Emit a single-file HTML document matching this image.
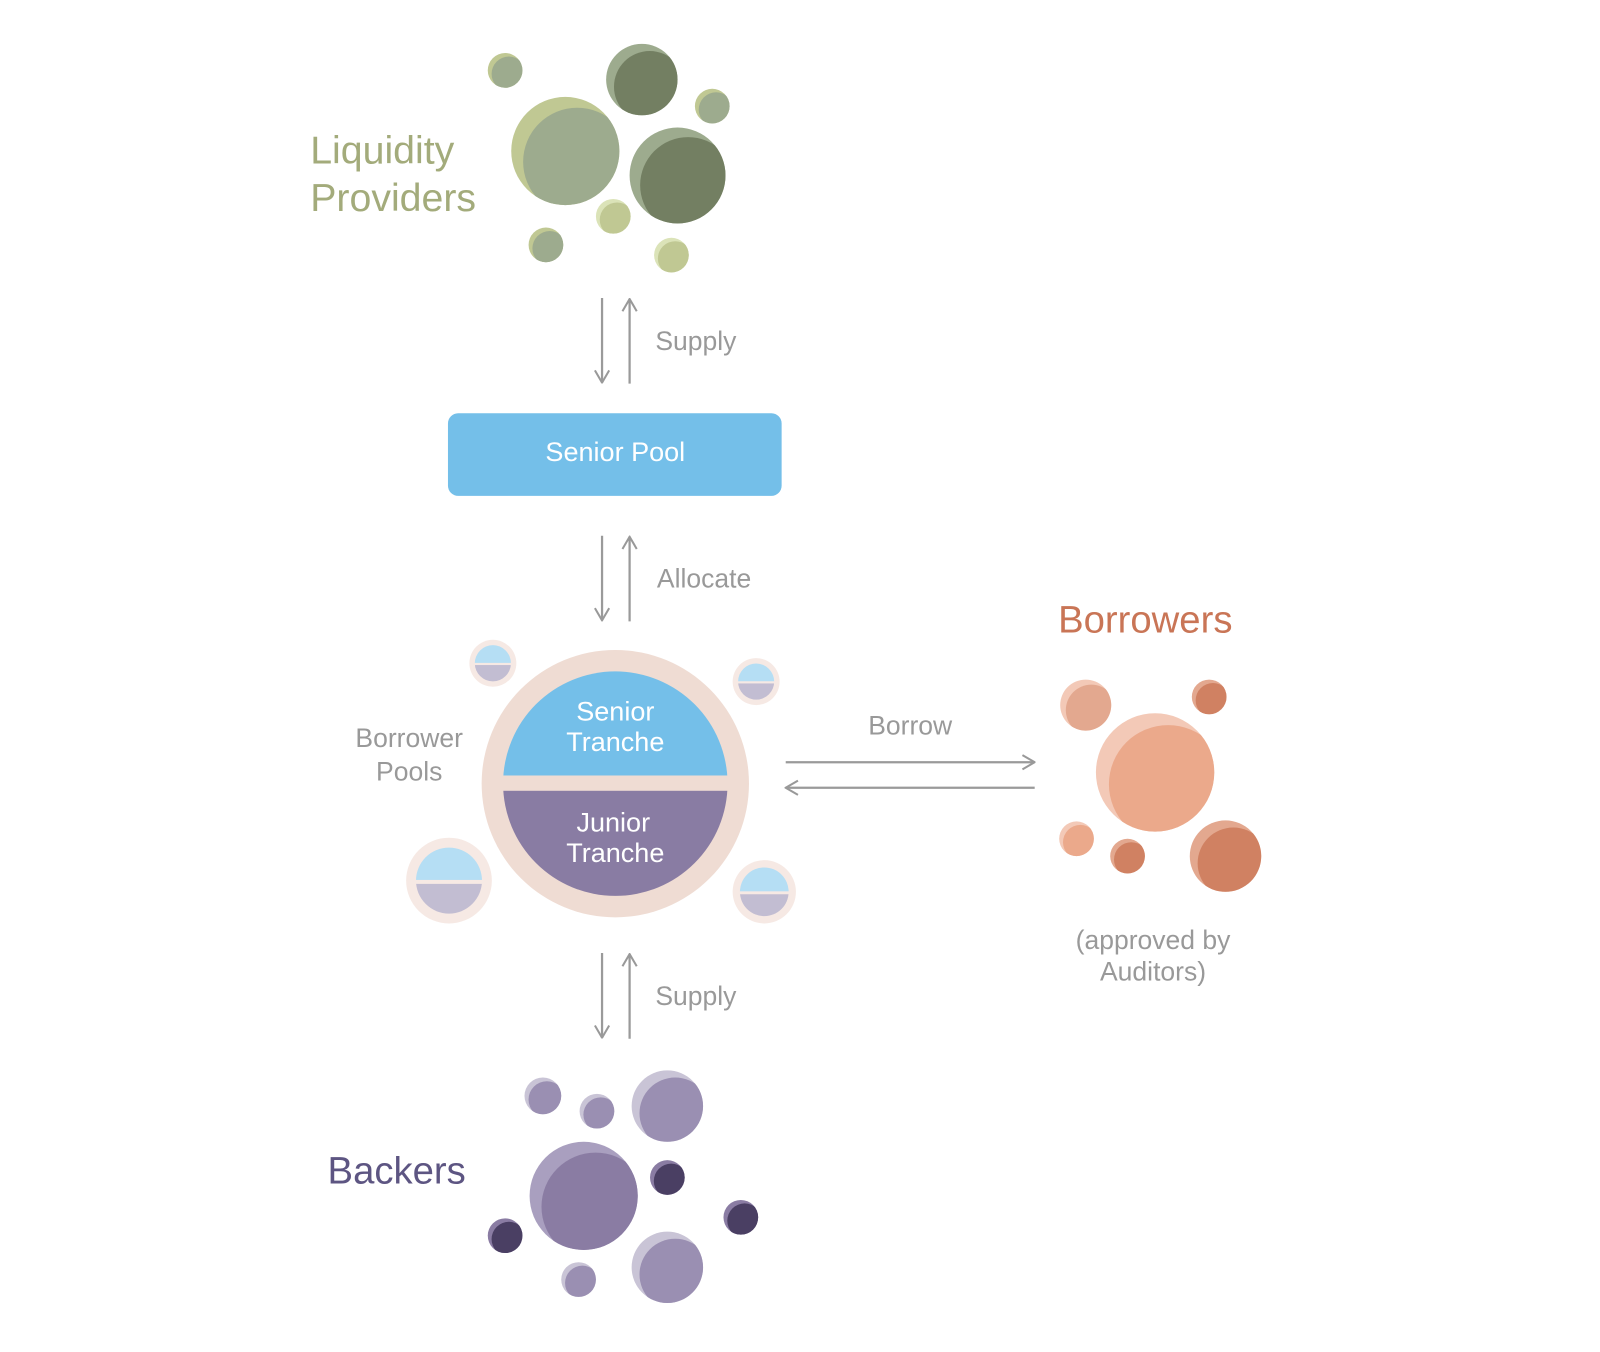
<!DOCTYPE html>
<html><head><meta charset="utf-8"><style>html,body{margin:0;padding:0;background:#fff}svg{display:block}</style></head>
<body>
<svg width="1600" height="1352" viewBox="0 0 1568 1325" xmlns="http://www.w3.org/2000/svg" font-family="Liberation Sans, sans-serif">
<defs>
<marker id="ah" viewBox="0 0 16 16" refX="15" refY="8" markerWidth="16" markerHeight="16" markerUnits="userSpaceOnUse" orient="auto"><path d="M3,1 L15,8 L3,15" fill="none" stroke="#999" stroke-width="2"/></marker>
</defs>
<g id="bubbles"></g>
<g stroke="#9a9a9a" stroke-width="2.2" fill="none">
<line x1="590" y1="292" x2="590" y2="375" marker-end="url(#ah)"/>
<line x1="617" y1="376" x2="617" y2="293" marker-end="url(#ah)"/>
<line x1="590" y1="525" x2="590" y2="608" marker-end="url(#ah)"/>
<line x1="617" y1="609" x2="617" y2="526" marker-end="url(#ah)"/>
<line x1="590" y1="934" x2="590" y2="1017" marker-end="url(#ah)"/>
<line x1="617" y1="1018" x2="617" y2="935" marker-end="url(#ah)"/>
<line x1="770" y1="747" x2="1014" y2="747" marker-end="url(#ah)"/>
<line x1="1014" y1="772" x2="770" y2="772" marker-end="url(#ah)"/>
</g>
<rect x="439" y="405" width="327" height="81" rx="10" fill="#74bfe9"/>
<text x="603" y="452" font-size="26.5" fill="#fff" text-anchor="middle">Senior Pool</text>
<circle cx="603" cy="768" r="131" fill="#efdcd3"/>
<clipPath id="mc"><circle cx="603" cy="768" r="110"/></clipPath>
<g clip-path="url(#mc)">
<rect x="480" y="650" width="250" height="110" fill="#74bfe9"/>
<rect x="480" y="775" width="250" height="110" fill="#897ca3"/>
</g>
<g font-size="26.5" fill="#fff" text-anchor="middle">
<text x="603" y="706">Senior</text><text x="603" y="736">Tranche</text>
<text x="601" y="815">Junior</text><text x="603" y="845">Tranche</text>
</g>
<g fill="#999" font-size="26" text-anchor="middle">
<text x="682" y="343">Supply</text>
<text x="690" y="576">Allocate</text>
<text x="682" y="985">Supply</text>
<text x="892" y="720">Borrow</text>
<text x="401" y="732">Borrower</text><text x="401" y="765">Pools</text>
<text x="1130" y="930">(approved by</text><text x="1130" y="961">Auditors)</text>
</g>
<text x="304" y="160" font-size="38.5" fill="#a3ab7b">Liquidity</text>
<text x="304" y="207" font-size="38.5" fill="#a3ab7b">Providers</text>
<text x="1037" y="620" font-size="37.5" fill="#c97556">Borrowers</text>
<text x="321" y="1160" font-size="37.5" fill="#5d5582">Backers</text>
<g id="pools"></g>
<script>
var ns="http://www.w3.org/2000/svg",g=document.getElementById("bubbles"),n=0;
function C(p,a){var e=document.createElementNS(ns,"circle");for(var k in a)e.setAttribute(k,a[k]);p.appendChild(e);return e;}
function B(x,y,r,c1,c2){n++;var cp=document.createElementNS(ns,"clipPath");cp.id="b"+n;C(cp,{cx:x,cy:y,r:r});g.appendChild(cp);
C(g,{cx:x,cy:y,r:r,fill:c1});var e=C(g,{cx:x+r*0.22,cy:y+r*0.2,r:r,fill:c2});e.setAttribute("clip-path","url(#b"+n+")");}
[[495,69,17,"#c0c893","#9dab8e"],[629,78,35,"#9dab8e","#737f62"],[698,104,17,"#c0c893","#9dab8e"],[554,148,53,"#c0c893","#9dab8e"],[664,172,47,"#9dab8e","#737f62"],[601,212,17,"#dbe3b8","#c0c893"],[535,240,17,"#c0c893","#9dab8e"],[658,250,17,"#dbe3b8","#c0c893"],
[1064,691,25,"#f3c9b7","#e3a88f"],[1185,683,17,"#e3a88f","#d08162"],[1132,757,58,"#f3c9b7","#eba98b"],[1055,822,17,"#f3c9b7","#eba98b"],[1105,839,17,"#e3a88f","#d08162"],[1201,839,35,"#e3a88f","#d08162"],
[532,1074,18,"#c9c4d6","#9a8fb2"],[585,1089,17,"#c9c4d6","#9a8fb2"],[654,1084,35,"#c9c4d6","#9a8fb2"],[572,1172,53,"#a99fbf","#8a7ca3"],[654,1154,17,"#8a7ca3","#4a3f63"],[495,1211,17,"#8a7ca3","#4a3f63"],[726,1193,17,"#8a7ca3","#4a3f63"],[567,1254,17,"#c9c4d6","#9a8fb2"],[654,1242,35,"#c9c4d6","#9a8fb2"]
].forEach(function(b){B.apply(null,b);});
var pg=document.getElementById("pools");
[[483,650,23],[741,668,23],[440,863,42],[749,874,31]].forEach(function(p){var x=p[0],y=p[1],r=p[2],ir=r*0.77;n++;
C(pg,{cx:x,cy:y,r:r,fill:"#f6e9e4"});var cp=document.createElementNS(ns,"clipPath");cp.id="b"+n;C(cp,{cx:x,cy:y,r:ir});pg.appendChild(cp);
var gg=document.createElementNS(ns,"g");gg.setAttribute("clip-path","url(#b"+n+")");pg.appendChild(gg);
var r1=document.createElementNS(ns,"rect");r1.setAttribute("x",x-r);r1.setAttribute("y",y-r);r1.setAttribute("width",2*r);r1.setAttribute("height",r-ir*0.02);r1.setAttribute("fill","#b5def4");gg.appendChild(r1);
var r2=document.createElementNS(ns,"rect");r2.setAttribute("x",x-r);r2.setAttribute("y",y+ir*0.1);r2.setAttribute("width",2*r);r2.setAttribute("height",r);r2.setAttribute("fill","#c2bdd2");gg.appendChild(r2);});
</script>
</svg>
</body></html>
